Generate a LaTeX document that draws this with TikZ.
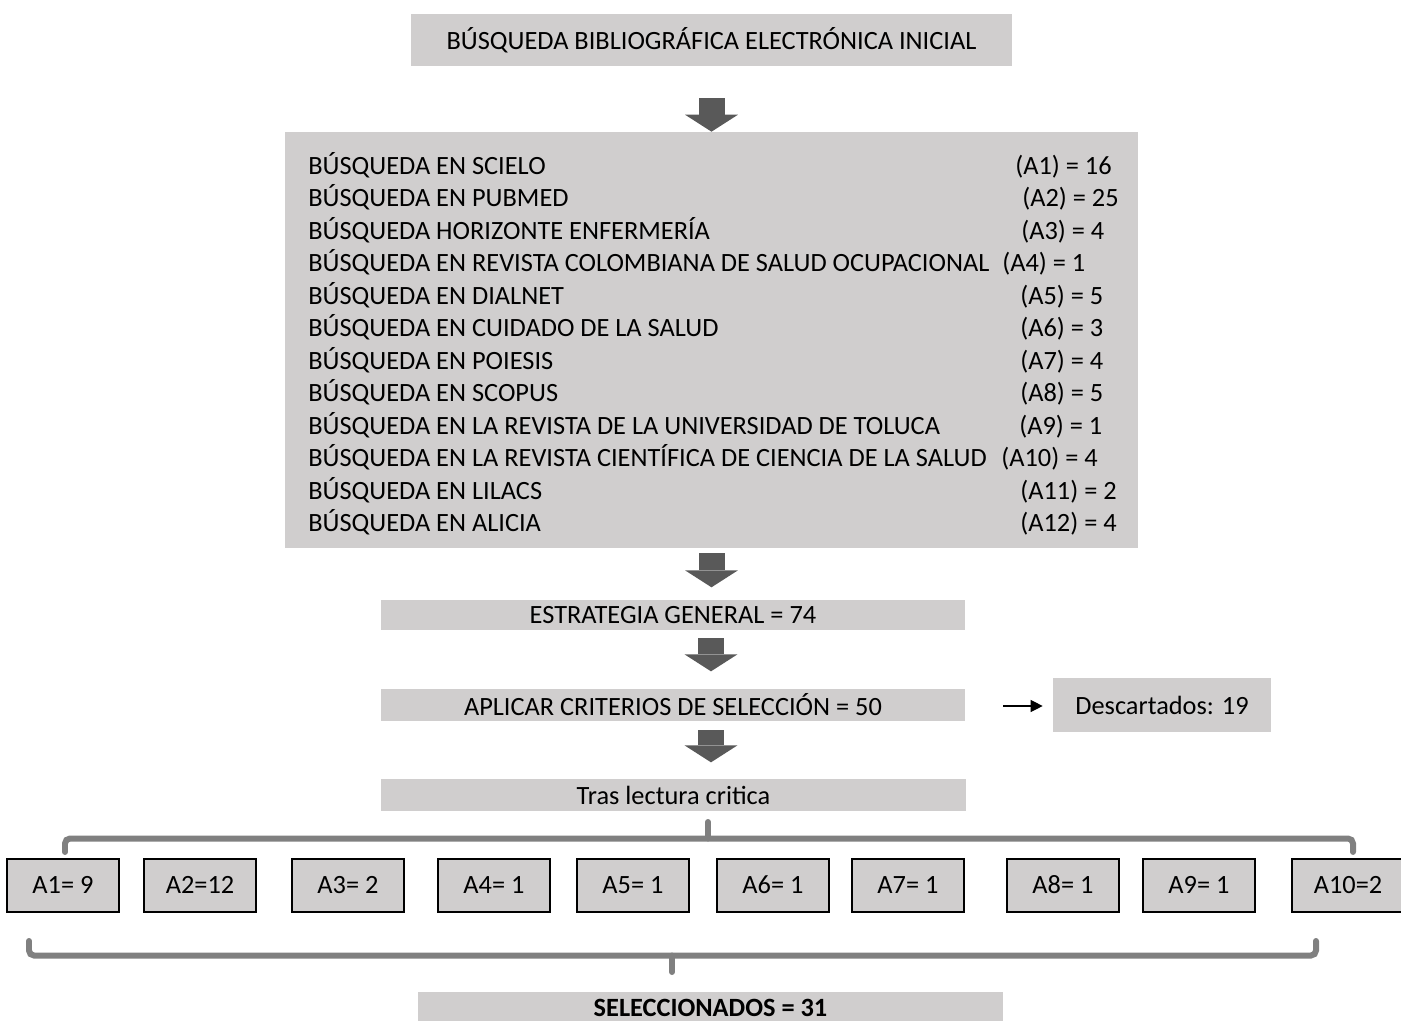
\documentclass[tikz,border=0pt]{standalone}
\usepackage{fontspec}
\setmainfont{Carlito}
\usepackage{tikz}
\usepackage{xcolor}
\usetikzlibrary{arrows.meta}
\definecolor{boxgray}{RGB}{208,206,206}
\definecolor{arrowgray}{RGB}{89,89,89}
\definecolor{bracegray}{RGB}{128,128,128}
\tikzstyle{box} = [rectangle, fill=boxgray, inner sep=0pt, font=\fontsize{15}{18}\selectfont]
\tikzstyle{result} = [box, draw=black, line width=1.2pt, minimum width=2.24cm, minimum height=1.06cm, text height=0.95em, text depth=0pt]
\tikzstyle{item} = [anchor=base west, inner sep=0pt, font=\fontsize{15}{18}\selectfont]
\tikzstyle{bigarrow} = [arrowgray, line width=0.52cm, -{Triangle[length=0.34cm, width=1.06cm, line width=0pt]}]
\tikzstyle{smallarrow} = [black, line width=0.6pt, -{Triangle[length=0.24cm, width=0.24cm]}]
\tikzstyle{brace} = [bracegray, line width=0.12cm, rounded corners=0.1cm, line cap=round]

\begin{document}
\begin{tikzpicture}[x=0.02cm, y=-0.02cm]
    \clip (0,0) rectangle (1401,1021);

    \node[box, minimum width=12.02cm, minimum height=1.04cm] (inicio) at (711.5,40) {BÚSQUEDA BIBLIOGRÁFICA ELECTRÓNICA INICIAL};
    \node[box, minimum width=17.06cm, minimum height=8.32cm] (lista) at (711.5,340) {};
    \foreach \txt/\val/\xr [count=\i] in {
        {BÚSQUEDA EN SCIELO}/{(A1) = 16}/1015,
        {BÚSQUEDA EN PUBMED}/{(A2) = 25}/1022,
        {BÚSQUEDA HORIZONTE ENFERMERÍA}/{(A3) = 4}/1021,
        {BÚSQUEDA EN REVISTA COLOMBIANA DE SALUD OCUPACIONAL}/{(A4) = 1}/1002,
        {BÚSQUEDA EN DIALNET}/{(A5) = 5}/1020,
        {BÚSQUEDA EN CUIDADO DE LA SALUD}/{(A6) = 3}/1020,
        {BÚSQUEDA EN POIESIS}/{(A7) = 4}/1020,
        {BÚSQUEDA EN SCOPUS}/{(A8) = 5}/1020,
        {BÚSQUEDA EN LA REVISTA DE LA UNIVERSIDAD DE TOLUCA}/{(A9) = 1}/1019,
        {BÚSQUEDA EN LA REVISTA CIENTÍFICA DE CIENCIA DE LA SALUD}/{(A10) = 4}/1001,
        {BÚSQUEDA EN LILACS}/{(A11) = 2}/1020,
        {BÚSQUEDA EN ALICIA}/{(A12) = 4}/1020}
    {
        \node[item] (fuente\i) at (308,{141.5+32.5*\i}) {\txt};
        \node[item] (valor\i) at (\xr,{141.5+32.5*\i}) {\val};
    }

    \node[box, minimum width=11.68cm, minimum height=0.6cm] (estrategia) at (673,615) {ESTRATEGIA GENERAL = 74};
    \node[box, minimum width=11.68cm, minimum height=0.64cm] (aplicar) at (673,705) {APLICAR CRITERIOS DE SELECCIÓN = 50};
    \node[box, minimum width=4.36cm, minimum height=1.08cm] (descartados) at (1162,705) {Descartados: 19};
    \node[box, minimum width=11.7cm, minimum height=0.64cm] (tras) at (673.5,795) {Tras lectura critica};
    \node[box, minimum width=11.7cm, minimum height=0.64cm, font=\fontsize{15}{18}\selectfont\bfseries] (seleccionados) at (710.5,1008) {SELECCIONADOS = 31};

    \foreach \val/\xc [count=\i] in {A1= 9/63, A2=12/200, A3= 2/348, A4= 1/494, A5= 1/633, A6= 1/773, A7= 1/908, A8= 1/1063, A9= 1/1199, A10=2/1348}
        \node[result] (b\i) at (\xc,885.5) {\val};

    % flechas
    \draw[bigarrow] ([yshift=-0.64cm]inicio.south) -- (lista.north);
    \draw[bigarrow] ([yshift=-0.1cm]lista.south) -- ++(0,-0.68cm);
    \draw[bigarrow] ([shift={(0.76cm,-0.16cm)}]estrategia.south) -- ++(0,-0.66cm);
    \draw[bigarrow] ([shift={(0.76cm,-0.18cm)}]aplicar.south) -- ++(0,-0.64cm);
    \draw[smallarrow] ([shift={(0.76cm,-0.02cm)}]aplicar.east) -- ([shift={(-0.2cm,-0.02cm)}]aplicar.east -| descartados.west);

    % llaves
    \draw[brace] ([yshift=0.12cm]b1.north) ++(0.04cm,0) |- (708,838.5) -| ([shift={(0.1cm,0.12cm)}]b10.north);
    \draw[brace] (708,838.5) -- (708,822);
    \draw[brace] (29,941) |- (672,955.5) -| (1316,941);
    \draw[brace] (672,955.5) -- (672,972);
\end{tikzpicture}
\end{document}
